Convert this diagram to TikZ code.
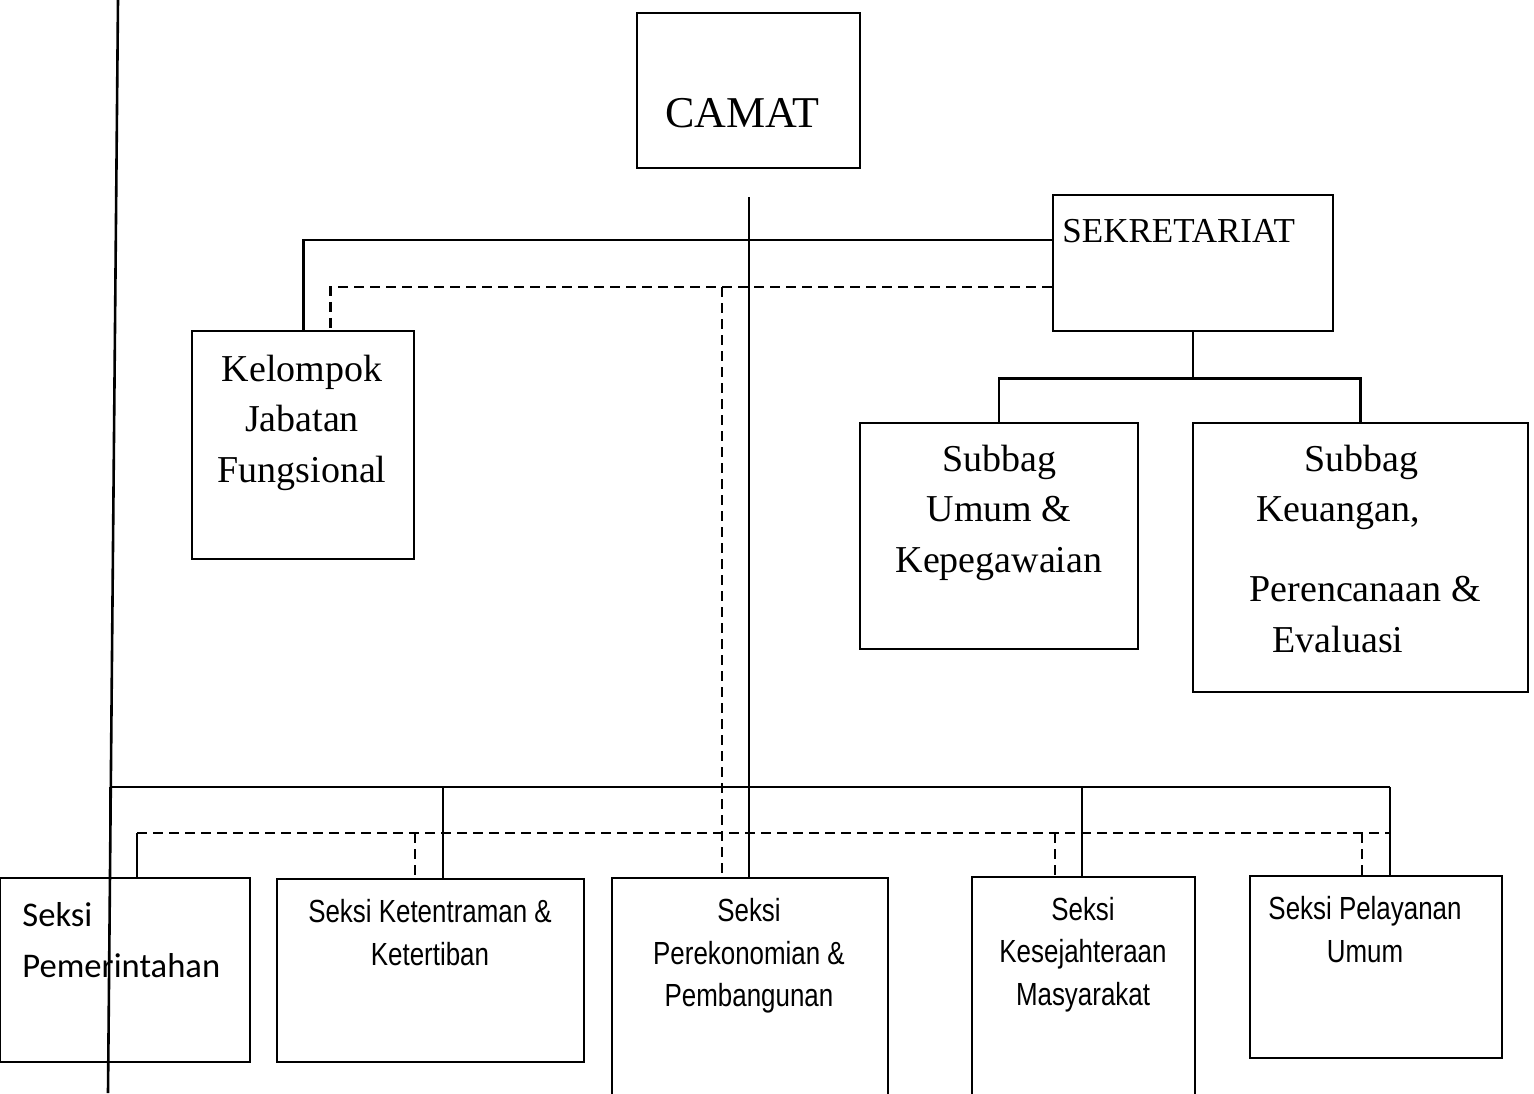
\documentclass[tikz,border=0pt]{standalone}
\usepackage{fontspec}
\setmainfont{Liberation Serif}
\newfontfamily\calfont{Carlito}
\newfontfamily\narrowfont[FakeStretch=0.81]{Liberation Sans}
\usetikzlibrary{fit,calc}
\begin{document}
\begin{tikzpicture}[x=0.5pt,y=-0.5pt,
  box/.style={draw,line width=1.3pt,inner sep=0pt},
  solidline/.style={line width=1.3pt},
  dashline/.style={line width=1.2pt,dash pattern=on 5pt off 3pt},
  sertxt/.style={inner sep=0pt,anchor=base,font=\fontsize{19}{25}\selectfont},
  bigtxt/.style={inner sep=0pt,anchor=base,font=\fontsize{22}{26}\selectfont},
  sektxt/.style={inner sep=0pt,anchor=base west,font=\fontsize{17.5}{21}\selectfont},
  caltxt/.style={inner sep=0pt,anchor=base west,font=\calfont\fontsize{17.3}{21}\selectfont},
  nartxt/.style={inner sep=0pt,anchor=base,font=\narrowfont\fontsize{16}{21}\selectfont}]
\useasboundingbox (0,0) rectangle (1534,1093);
\clip (0,0) rectangle (1534,1093);
\fill[white] (0,0) rectangle (1534,1093);

% boxes
\node[box,fit={(637,13) (860,168)}] (camat) {};
\node[box,fit={(1053,195) (1333,331)}] (sek) {};
\node[box,fit={(192,331) (414,559)}] (kel) {};
\node[box,fit={(860,423) (1138,649)}] (sub1) {};
\node[box,fit={(1193,423) (1528,692)}] (sub2) {};
\node[box,fit={(0,878) (250,1062)}] (pem) {};
\node[box,fit={(277,879) (584,1062)}] (ket) {};
\node[box,fit={(612,878) (888,1110)}] (perek) {};
\node[box,fit={(972,877) (1195,1110)}] (kes) {};
\node[box,fit={(1250,876) (1502,1058)}] (pel) {};

% texts
\node[bigtxt] (tcamat) at (742,127) {CAMAT};
\node[sektxt] (tsek) at (1062,242) {SEKRETARIAT};
\node[sertxt] (tkel1) at (302,381) {Kelompok};
\node[sertxt] (tkel2) at (302,431) {Jabatan};
\node[sertxt] (tkel3) at (302,482) {Fungsional};
\node[sertxt] (ts11) at (999,471) {Subbag};
\node[sertxt] (ts12) at (999,521) {Umum \&};
\node[sertxt] (ts13) at (999,572) {Kepegawaian};
\node[sertxt] (ts21) at (1361,471) {Subbag};
\node[sertxt] (ts22) at (1338,521) {Keuangan,};
\node[sertxt] (ts23) at (1365,601) {Perencanaan \&};
\node[sertxt] (ts24) at (1338,652) {Evaluasi};
\node[caltxt] (tpem1) at (22,926) {Seksi};
\node[caltxt] (tpem2) at (22,977) {Pemerintahan};
\node[nartxt] (tket1) at (430,922) {Seksi Ketentraman \&};
\node[nartxt] (tket2) at (430,965) {Ketertiban};
\node[nartxt] (tper1) at (749,921) {Seksi};
\node[nartxt] (tper2) at (749,964) {Perekonomian \&};
\node[nartxt] (tper3) at (749,1006) {Pembangunan};
\node[nartxt] (tkes1) at (1083,920) {Seksi};
\node[nartxt] (tkes2) at (1083,962) {Kesejahteraan};
\node[nartxt] (tkes3) at (1083,1005) {Masyarakat};
\node[nartxt] (tpel1) at (1365,919) {Seksi Pelayanan};
\node[nartxt] (tpel2) at (1365,962) {Umum};

% coordinates
\coordinate (camatfoot) at (749,197);
\coordinate (leftTop) at (118,0);
\coordinate (leftBot) at (108,1093);
\coordinate (busL) at (110,787);
\coordinate (busR) at (1390,787);
\coordinate (dbusL) at (137,833);
\coordinate (dbusR) at (1390,833);
\coordinate (secdash) at (722,287);
\coordinate (secsolid) at (722,240);
\coordinate (ketdrop) at (443,787);
\coordinate (kesdrop) at (1082,787);
\coordinate (ketdash) at (415,833);
\coordinate (kesdash) at (1055,833);
\coordinate (peldash) at (1362,833);

% stray left line
\draw[solidline] (leftTop) -- (leftBot);

% camat main line
\draw[solidline] (camatfoot) -- (camatfoot |- perek.north);

% sekretariat to kelompok (solid & dashed)
\draw[solidline] (sek.west |- secsolid) -| ($(kel.north)+(0.5,0)$);
\draw[dashline] (sek.west |- secdash) -| ($(kel.north)+(27.5,0)$);
\draw[dashline] (secdash) -- (secdash |- perek.north);

% sekretariat to subbags
\draw[solidline] (sek.south) -- ++(0,46) coordinate (sekj);
\draw[solidline] (sub1.north) |- (sekj) -| (sub2.north);

% solid bus to seksi
\draw[solidline] (busL) -- (busR);
\draw[solidline] (busL) -- (busL |- pem.north);
\draw[solidline] (ketdrop) -- (ketdrop |- ket.north);
\draw[solidline] (kesdrop) -- (kesdrop |- kes.north);
\draw[solidline] (busR) -- (busR |- pel.north);

% dashed bus
\draw[dashline] (dbusL) -- (dbusR);
\draw[solidline] (dbusL) -- (dbusL |- pem.north);
\draw[dashline] (ketdash) -- (ketdash |- ket.north);
\draw[dashline] (kesdash) -- (kesdash |- kes.north);
\draw[dashline] (peldash) -- (peldash |- pel.north);
\end{tikzpicture}
\end{document}
